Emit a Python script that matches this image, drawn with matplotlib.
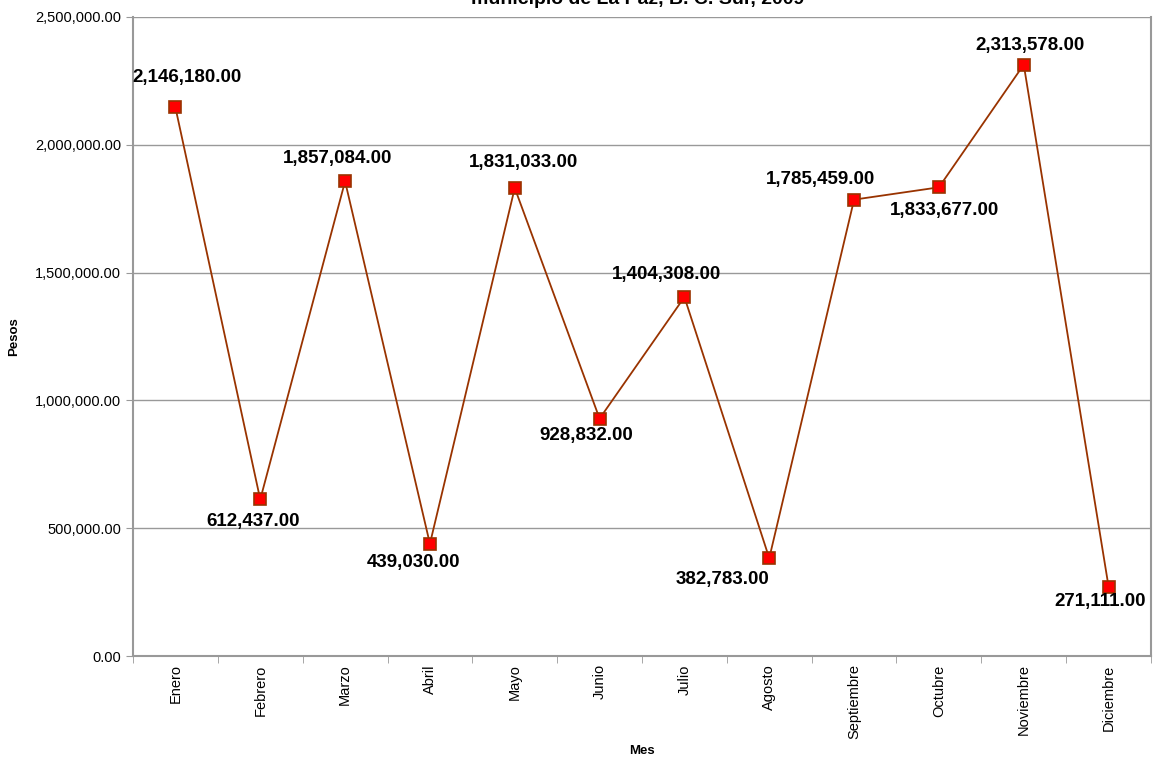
import matplotlib
matplotlib.use("Agg")
import matplotlib.pyplot as plt
from matplotlib.ticker import FuncFormatter, FixedLocator

plt.rcParams['font.family'] = ['Liberation Sans', 'DejaVu Sans']

meses = ["Enero", "Febrero", "Marzo", "Abril", "Mayo", "Junio", "Julio",
         "Agosto", "Septiembre", "Octubre", "Noviembre", "Diciembre"]
pesos = [2146180.00, 612437.00, 1857084.00, 439030.00, 1831033.00, 928832.00,
         1404308.00, 382783.00, 1785459.00, 1833677.00, 2313578.00, 271111.00]
title_text = "municipio de La Paz, B. C. Sur, 2009"

# label offsets in pixels (layout only)
label_offsets = [(12, 30), (-7, -22), (-8, 23), (-16, -19), (9, 25), (-13, -17),
                 (-18, 23), (-47, -21), (-34, 20), (6, -23), (6, 19), (-8, -15)]

fig = plt.figure(figsize=(11.53, 7.61), dpi=100)
ax = fig.add_axes([133/1153, 1 - 656/761, (1151-133)/1153, (656-17)/761])

x = list(range(len(meses)))
ax.plot(x, pesos, color="#993300", lw=1.3, marker="s", markersize=8,
        markerfacecolor="#FF0000", markeredgecolor="#993300", markeredgewidth=1.2,
        zorder=3, clip_on=False)

for i, (v, off) in enumerate(zip(pesos, label_offsets)):
    ax.annotate(f"{v:,.2f}", (i, v), xytext=off, textcoords="offset pixels",
                ha="center", va="center", fontsize=13.5, fontweight="bold", color="black",
                annotation_clip=False)

ax.set_xlim(-0.5, len(meses) - 0.5)
ax.set_ylim(0, 2500000)
ax.yaxis.set_major_locator(FixedLocator([0, 500000, 1000000, 1500000, 2000000, 2500000]))
ax.yaxis.set_major_formatter(FuncFormatter(lambda v, p: f"{v:,.2f}"))
ax.grid(axis="y", color="#999999", lw=1)
ax.set_axisbelow(True)

ax.set_xticks(x)
ax.set_xticklabels(meses, rotation=90, fontsize=10.5)
ax.set_xticks([i - 0.5 for i in range(len(meses) + 1)], minor=True)
ax.tick_params(axis="x", which="major", length=0, pad=6)
ax.tick_params(axis="x", which="minor", length=5, color="#999999")
ax.tick_params(axis="y", labelsize=10.5, length=5, color="#999999")

ax.spines["top"].set_visible(False)
for s in ["left", "bottom", "right"]:
    ax.spines[s].set_color("#999999")
    ax.spines[s].set_linewidth(1.5)

ax.set_ylabel("Pesos", fontsize=9.5, fontweight="bold", labelpad=11)
ax.set_xlabel("Mes", fontsize=9.5, fontweight="bold", labelpad=4)

fig.text(638/1153, 1 - 4/761, title_text, ha="center", va="baseline",
         fontsize=14, fontweight="bold")

fig.savefig("out.png", dpi=100, facecolor="white")
